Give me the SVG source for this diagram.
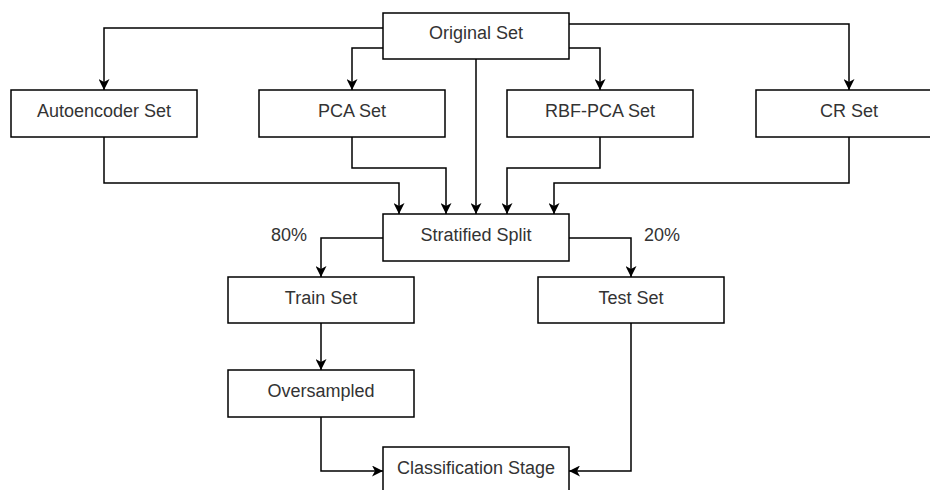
<svg xmlns="http://www.w3.org/2000/svg" width="930" height="490" viewBox="0 0 930 490">
  <style>
    .box { fill: #ffffff; stroke: #000000; stroke-width: 1.5; }
    .lbl { font-family: "Liberation Sans", Arial, Helvetica, sans-serif; font-size: 18px; fill: #333333; text-anchor: middle; }
    .edge { fill: none; stroke: #000000; stroke-width: 1.5; marker-end: url(#arrow); }
  </style>
  <defs>
    <marker id="arrow" viewBox="0 0 11 11" refX="11" refY="5.5" markerWidth="11" markerHeight="11" markerUnits="userSpaceOnUse" orient="auto">
      <path d="M0,0 L11,5.5 L0,11 L3,5.5 Z" fill="#000000"/>
    </marker>
  </defs>
  <rect width="930" height="490" fill="#ffffff"/>

  <!-- connectors -->
  <g id="connectors">
    <path class="edge" d="M383,28 H104 V90"/>
    <path class="edge" d="M383,48 H352 V90"/>
    <path class="edge" d="M569,48 H600 V90"/>
    <path class="edge" d="M569,24 H849 V90"/>
    <path class="edge" d="M476,59 V214"/>
    <path class="edge" d="M104,137 V183 H399 V214"/>
    <path class="edge" d="M352,137 V168 H446 V214"/>
    <path class="edge" d="M600,137 V168 H507 V214"/>
    <path class="edge" d="M849,137 V183 H554 V214"/>
    <path class="edge" d="M383,238 H321 V277"/>
    <path class="edge" d="M569,238 H631 V277"/>
    <path class="edge" d="M321,323 V370"/>
    <path class="edge" d="M321,417 V471 H383"/>
    <path class="edge" d="M631,323 V471 H569"/>
    <text class="lbl" x="289" y="241">80%</text>
    <text class="lbl" x="662" y="241">20%</text>
  </g>

  <!-- nodes -->
  <g id="original-set">
    <rect class="box" x="383" y="13" width="186" height="46"/>
    <text class="lbl" x="476" y="39">Original Set</text>
  </g>
  <g id="autoencoder-set">
    <rect class="box" x="11" y="90" width="186" height="47"/>
    <text class="lbl" x="104" y="117">Autoencoder Set</text>
  </g>
  <g id="pca-set">
    <rect class="box" x="259" y="90" width="186" height="47"/>
    <text class="lbl" x="352" y="117">PCA Set</text>
  </g>
  <g id="rbf-pca-set">
    <rect class="box" x="507" y="90" width="186" height="47"/>
    <text class="lbl" x="600" y="117">RBF-PCA Set</text>
  </g>
  <g id="cr-set">
    <rect class="box" x="756" y="90" width="186" height="47"/>
    <text class="lbl" x="849" y="117">CR Set</text>
  </g>
  <g id="stratified-split">
    <rect class="box" x="383" y="214" width="186" height="47"/>
    <text class="lbl" x="476" y="241">Stratified Split</text>
  </g>
  <g id="train-set">
    <rect class="box" x="228" y="277" width="186" height="46"/>
    <text class="lbl" x="321" y="304">Train Set</text>
  </g>
  <g id="test-set">
    <rect class="box" x="538" y="277" width="186" height="46"/>
    <text class="lbl" x="631" y="304">Test Set</text>
  </g>
  <g id="oversampled">
    <rect class="box" x="228" y="370" width="186" height="47"/>
    <text class="lbl" x="321" y="397">Oversampled</text>
  </g>
  <g id="classification-stage">
    <rect class="box" x="383" y="447" width="186" height="47"/>
    <text class="lbl" x="476" y="474">Classification Stage</text>
  </g>
</svg>
